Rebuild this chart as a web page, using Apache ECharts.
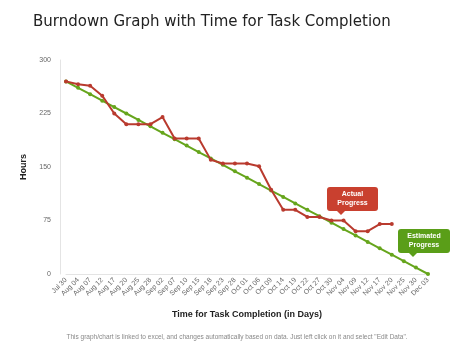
<!DOCTYPE html>
<html><head><meta charset="utf-8">
<script src="https://cdn.jsdelivr.net/npm/echarts@6/dist/echarts.min.js"></script>
<style>html,body{margin:0;padding:0;background:#fff}#c{width:474px;height:355px}</style>
</head><body><div id="c"></div>
<script>
const categories = ['Jul 30','Aug 04','Aug 07','Aug 12','Aug 17','Aug 20','Aug 25','Aug 28','Sep 02','Sep 07','Sep 10','Sep 15','Sep 18','Sep 23','Sep 28','Oct 01','Oct 06','Oct 09','Oct 14','Oct 19','Oct 22','Oct 27','Oct 30','Nov 04','Nov 09','Nov 12','Nov 17','Nov 20','Nov 25','Nov 30','Dec 03'];
const estimated = [270,261,252,243,234,225,216,207,198,189,180,171,162,153,144,135,126,117,108,99,90,81,72,63,54,45,36,27,18,9,0];
const actual = [270,266,264,250,225,210,210,210,220,190,190,190,160,155,155,155,151,118,90,90,80,80,75,75,60,60,70,70,null,null,null];
const yTicks = [0,75,150,225,300];

const chart = echarts.init(document.getElementById('c'));
const red = '#b93a2e', green = '#66a51c';
chart.setOption({
  animation:false,
  backgroundColor:'#fff',
  title:{text:'Burndown Graph with Time for Task Completion',left:28,top:10,
    textStyle:{fontFamily:'DejaVu Sans',fontWeight:'normal',fontSize:15,color:'#222'}},
  grid:{left:66,right:46,top:60,bottom:81},
  xAxis:{type:'category',data:categories,boundaryGap:false,
    name:'Time for Task Completion (in Days)',nameLocation:'middle',nameGap:36,
    nameTextStyle:{fontFamily:'Liberation Sans',fontWeight:'bold',fontSize:9,color:'#222'},
    axisLine:{lineStyle:{color:'#e4e4e4'}},axisTick:{show:false},
    axisLabel:{rotate:45,interval:0,fontSize:7,color:'#666',fontFamily:'Liberation Sans',margin:5}},
  yAxis:{type:'value',min:yTicks[0],max:yTicks[yTicks.length-1],interval:75,offset:6,
    name:'Hours',nameLocation:'middle',nameGap:26,nameRotate:90,
    nameTextStyle:{fontFamily:'Liberation Sans',fontWeight:'bold',fontSize:9,color:'#222'},
    axisLine:{show:true,lineStyle:{color:'#e4e4e4'}},axisTick:{show:false},splitLine:{show:false},
    axisLabel:{fontSize:7,color:'#666',fontFamily:'Liberation Sans',margin:9}},
  series:[
    {name:'Estimated',type:'line',data:estimated,symbol:'circle',symbolSize:4,
      lineStyle:{color:green,width:2},itemStyle:{color:green},z:2},
    {name:'Actual',type:'line',data:actual,symbol:'circle',symbolSize:4,connectNulls:false,
      lineStyle:{color:red,width:2},itemStyle:{color:red},z:3}
  ],
  graphic:[
    {type:'group',left:327,top:187,children:[
      {type:'rect',shape:{x:0,y:0,width:51,height:24,r:3},style:{fill:'#c9402f'}},
      {type:'polygon',shape:{points:[[10,24],[18,24],[14,28]]},style:{fill:'#c9402f'}},
      {type:'text',style:{text:'Actual\nProgress',x:25.5,y:12,align:'center',verticalAlign:'middle',fill:'#fff',font:'bold 7px "Liberation Sans"',lineHeight:9}}
    ]},
    {type:'group',left:398,top:229,children:[
      {type:'rect',shape:{x:0,y:0,width:52,height:24,r:3},style:{fill:'#5a9e18'}},
      {type:'polygon',shape:{points:[[11,24],[19,24],[15,28]]},style:{fill:'#5a9e18'}},
      {type:'text',style:{text:'Estimated\nProgress',x:26,y:12,align:'center',verticalAlign:'middle',fill:'#fff',font:'bold 7px "Liberation Sans"',lineHeight:9}}
    ]},
    {type:'text',left:'center',top:334,style:{text:'This graph/chart is linked to excel, and changes automatically based on data. Just left click on it and select "Edit Data".',fill:'#888',font:'6.5px "Liberation Sans"'}}
  ]
});
</script></body></html>
